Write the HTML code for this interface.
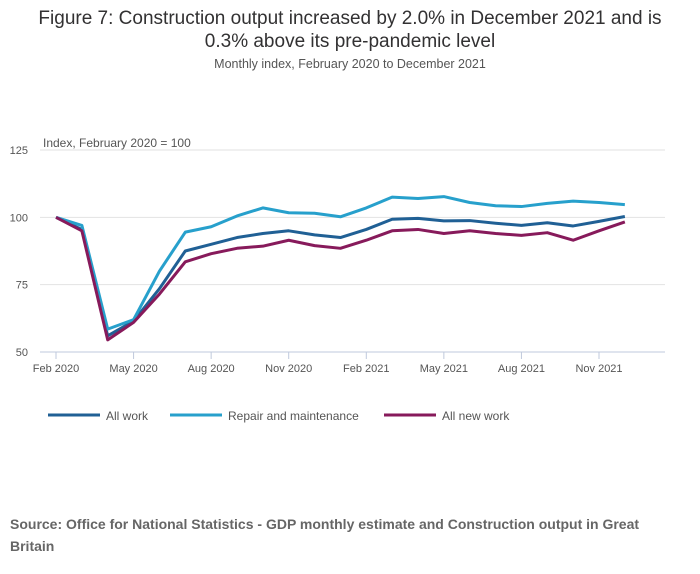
<!DOCTYPE html>
<html><head><meta charset="utf-8"><style>
body{margin:0;width:700px;height:574px;background:#fff;font-family:"Liberation Sans",sans-serif;overflow:hidden}
.t{position:absolute;left:0;width:700px;text-align:center;color:#323132}
</style></head><body>
<div class="t" style="top:7px;font-size:19px;line-height:23px">Figure 7: Construction output increased by 2.0% in December 2021 and is<br>0.3% above its pre-pandemic level</div>
<div class="t" style="top:57px;font-size:12.5px;color:#555">Monthly index, February 2020 to December 2021</div>
<svg id="c" width="700" height="574" style="position:absolute;left:0;top:0"></svg>
<div style="position:absolute;left:10px;top:513px;font-size:14px;font-weight:bold;color:#666;line-height:22px;width:660px">Source: Office for National Statistics - GDP monthly estimate and Construction output in Great Britain</div>
<script>
const allWork=[100,95.5,56,61.5,73.5,87.5,90,92.5,94,95,93.5,92.5,95.5,99.3,99.6,98.7,98.8,97.8,97,98,96.8,98.5,100.3];
const repair=[100,97,58.5,62,80,94.5,96.5,100.5,103.5,101.7,101.5,100.2,103.5,107.5,107,107.7,105.5,104.3,104,105.2,106,105.5,104.7];
const newWork=[100,95,54.5,61,71.5,83.5,86.5,88.5,89.3,91.5,89.5,88.5,91.5,95,95.5,94,95,94,93.3,94.3,91.5,95,98.3];
const yTicks=[50,75,100,125];
const xLabels=["Feb 2020","May 2020","Aug 2020","Nov 2020","Feb 2021","May 2021","Aug 2021","Nov 2021"];
const seriesNames=["All work","Repair and maintenance","All new work"];
const colors=["#206095","#27a0cc","#871a5b"];
const ns="http://www.w3.org/2000/svg",svg=document.getElementById('c');
const X=i=>56+i*(599-56)/21, Y=v=>352-(v-50)*(352-150)/75;
function mk(t,a,txt){const e=document.createElementNS(ns,t);for(const k in a)e.setAttribute(k,a[k]);if(txt!==undefined)e.textContent=txt;svg.appendChild(e);return e;}
yTicks.forEach(v=>{
 const l=mk('line',{x1:40,x2:665,y1:Y(v),y2:Y(v),stroke:v==50?'#bfc9dc':'#e2e2e2','stroke-width':1});
 
 const t=mk('text',{x:28,y:Y(v)+4,'font-size':11,fill:'#555','text-anchor':'end'},v);
 
});
const yt=mk('text',{x:43,y:147,'font-size':12,fill:'#555'},'Index, February 2020 = 100');

xLabels.forEach((s,k)=>{
 const x=X(k*3);
 const l=mk('line',{x1:x,x2:x,y1:352,y2:359,stroke:'#bfc9dc'});
 
 const t=mk('text',{x:x,y:372,'font-size':11,fill:'#555','text-anchor':'middle'},s);
 
});
[allWork,repair,newWork].forEach((d,s)=>{
 const p=mk('polyline',{points:d.map((v,i)=>X(i)+','+Y(v)).join(' '),fill:'none',stroke:colors[s],'stroke-width':3,'stroke-linejoin':'round'});
 
 
});
const lx=[48,170,384];
seriesNames.forEach((n,s)=>{
 const l=mk('line',{x1:lx[s],x2:lx[s]+52,y1:415,y2:415,stroke:colors[s],'stroke-width':3});
 
 const t=mk('text',{x:lx[s]+58,y:420,'font-size':12,fill:'#555'},n);
 
});
</script>
</body></html>
